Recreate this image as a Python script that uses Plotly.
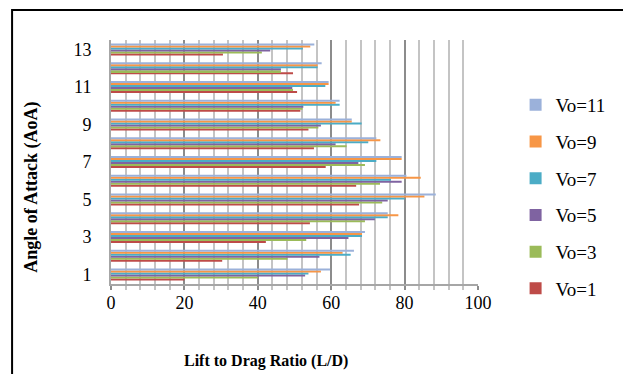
import plotly.graph_objects as go

# Angle of attack (degrees) and lift-to-drag ratios for each free-stream speed
aoa = [1, 2, 3, 4, 5, 6, 7, 8, 9, 10, 11, 12, 13]
ld_vo1 = [20.0, 30.3, 42.2, 54.2, 67.6, 66.8, 58.5, 55.3, 53.8, 51.6, 50.7, 49.6, 30.5]
ld_vo3 = [40.0, 48.1, 53.2, 69.2, 73.9, 73.3, 69.2, 64.2, 56.5, 52.2, 49.6, 46.3, 41.1]
ld_vo5 = [52.9, 56.8, 64.7, 71.9, 75.4, 79.2, 67.4, 61.2, 57.2, 52.4, 49.4, 46.3, 43.4]
ld_vo7 = [53.8, 65.3, 68.4, 75.4, 80.0, 76.3, 72.3, 70.1, 68.3, 62.3, 58.4, 56.3, 52.3]
ld_vo9 = [57.2, 63.1, 68.4, 78.3, 85.4, 84.4, 79.2, 73.4, 65.6, 61.2, 59.3, 56.3, 54.3]
ld_vo11 = [59.7, 66.2, 69.2, 75.4, 88.5, 80.5, 79.2, 72.3, 65.6, 62.3, 59.3, 57.4, 55.4]

series_names = ["Vo=1", "Vo=3", "Vo=5", "Vo=7", "Vo=9", "Vo=11"]
series_values = [ld_vo1, ld_vo3, ld_vo5, ld_vo7, ld_vo9, ld_vo11]
series_colors = ["#BE4B48", "#9BBB59", "#7F63A1", "#4BACC6", "#F79646", "#9BB1DA"]

x_ticks = [0, 20, 40, 60, 80, 100]
y_ticks = [1, 3, 5, 7, 9, 11, 13]

FONT = "Liberation Serif, Times New Roman, serif"

fig = go.Figure()
n = len(series_names)
for i, (name, vals, col) in enumerate(zip(series_names, series_values, series_colors)):
    fig.add_trace(go.Bar(
        x=vals, y=aoa, name=name, orientation="h",
        marker=dict(color=col, line=dict(width=0)),
        legendgroup=name, legendrank=100 * (n - i),
    ))

W, H = 623, 374
L, R, T, B = 111, 141, 40, 90
pw, ph = W - L - R, H - T - B


def px_x(p):
    return (p - L) / pw


def px_y(p):
    return (H - B - p) / ph


fig.update_layout(
    width=W, height=H,
    margin=dict(l=L, r=R, t=T, b=B, pad=0),
    paper_bgcolor="white", plot_bgcolor="white",
    barmode="group", bargap=0.36, bargroupgap=0,
    font=dict(family=FONT, size=18, color="black"),
    showlegend=True,
    legend=dict(
        x=px_x(520), xanchor="left", y=px_y(86), yanchor="top",
        traceorder="grouped", tracegroupgap=9,
        font=dict(family=FONT, size=19, color="black"),
        itemwidth=30, bgcolor="rgba(0,0,0,0)", borderwidth=0,
    ),
    xaxis=dict(
        range=[0, 100], tickvals=x_ticks, ticktext=[str(v) for v in x_ticks],
        showgrid=True, gridcolor="#8C8C8C", gridwidth=2,
        minor=dict(dtick=4, tick0=0, showgrid=True, gridcolor="#C4C4C4",
                   gridwidth=2, ticks="outside", ticklen=4, tickcolor="#C4C4C4",
                   tickwidth=2),
        ticks="outside", ticklen=4, tickcolor="#8C8C8C", tickwidth=2,
        showline=True, linecolor="#A6A6A6", linewidth=2,
        zeroline=False, ticklabelstandoff=-3,
        tickfont=dict(family=FONT, size=18),
    ),
    yaxis=dict(
        range=[0.5, 13.5], tickvals=y_ticks, ticktext=[str(v) for v in y_ticks],
        showgrid=False, zeroline=False,
        showline=True, linecolor="#A6A6A6", linewidth=2,
        ticks="", ticklabelstandoff=14,
        tickfont=dict(family=FONT, size=18),
    ),
)

# Axis titles
fig.add_annotation(
    text="<b>Lift to Drag Ratio (L/D)</b>", xref="paper", yref="paper",
    x=px_x(268), y=px_y(361), xanchor="center", yanchor="middle",
    showarrow=False, font=dict(family=FONT, size=16, color="black"),
)
fig.add_annotation(
    text="<b>Angle of Attack (AoA)</b>", xref="paper", yref="paper",
    x=px_x(30), y=px_y(187), xanchor="center", yanchor="middle",
    textangle=-90, showarrow=False,
    font=dict(family=FONT, size=18, color="black"),
)

# Outer frame around the chart
fig.add_shape(
    type="rect", xref="paper", yref="paper",
    x0=px_x(11), x1=px_x(660), y0=px_y(410), y1=px_y(10),
    line=dict(color="black", width=2), fillcolor="rgba(0,0,0,0)", layer="above",
)

fig.write_html("out.html")
